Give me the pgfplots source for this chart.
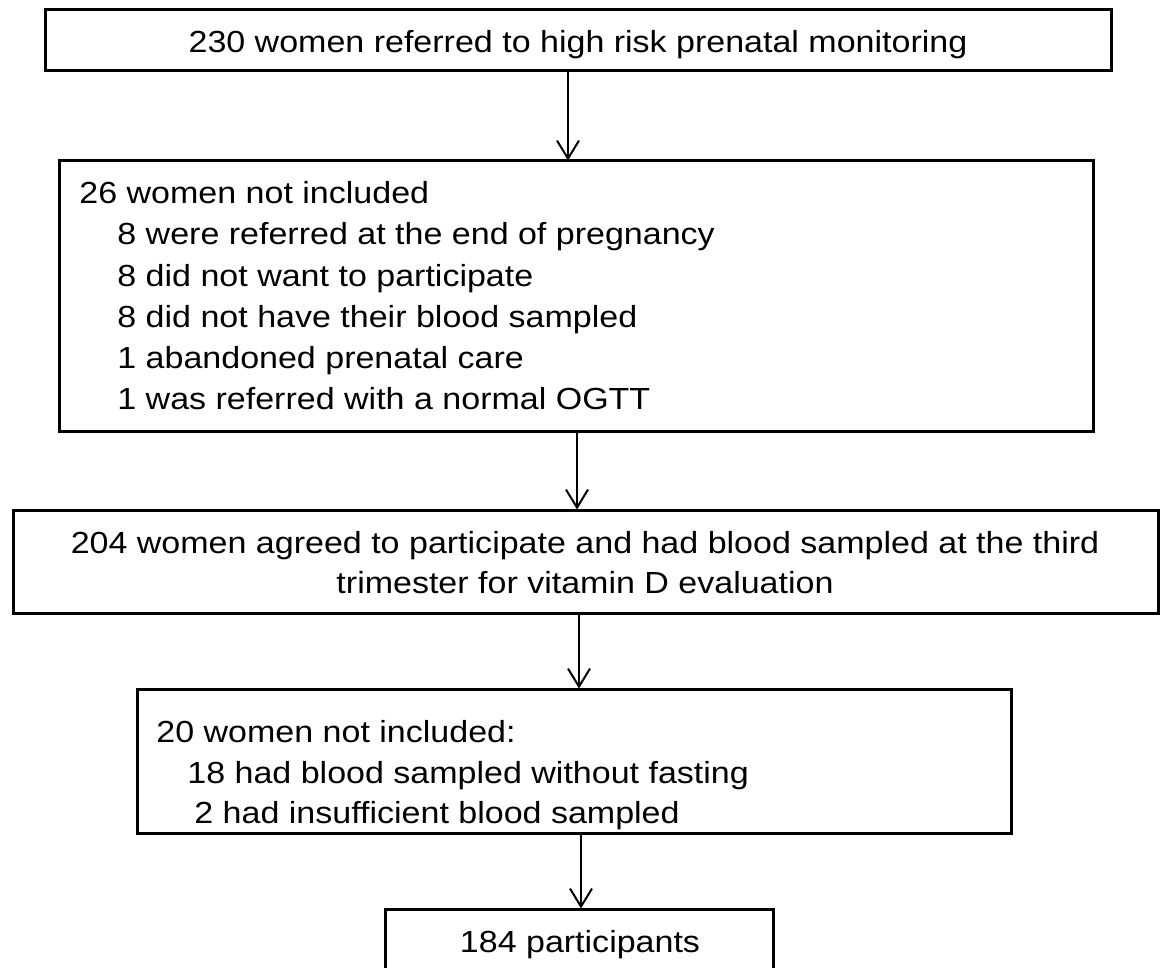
\documentclass[border=0pt]{standalone}
\usepackage{pgfplots}
\pgfplotsset{compat=1.18}
\usepackage{fontspec}
\setmainfont{Liberation Sans}[FakeStretch=1.115]
\usetikzlibrary{arrows.meta}
\begin{document}
\begin{tikzpicture}
\begin{axis}[hide axis, scale only axis, width=581bp, height=484bp,
  xmin=0, xmax=1162, ymin=0, ymax=968, y dir=reverse, clip=false]
\tikzset{box/.style={line width=1.5bp, black},
  arr/.style={line width=1bp, black, -{Straight Barb[length=9bp,width=11bp,line width=1bp]}},
  txt/.style={inner sep=0pt, font=\fontsize{15.25bp}{20bp}\selectfont}}
% boxes
\draw[box] (axis cs:45,10) rectangle (axis cs:1111,71);
\draw[box] (axis cs:59,161) rectangle (axis cs:1093,431);
\draw[box] (axis cs:13,510) rectangle (axis cs:1158,613);
\draw[box] (axis cs:137,689) rectangle (axis cs:1011,833);
\draw[box] (axis cs:385,968) -- (axis cs:385,909) -- (axis cs:773,909) -- (axis cs:773,968);
% arrows
\draw[arr] (axis cs:568,71) -- (axis cs:568,160.5);
\draw[arr] (axis cs:577,431) -- (axis cs:577,509.5);
\draw[arr] (axis cs:579,613) -- (axis cs:579,688.5);
\draw[arr] (axis cs:581,833) -- (axis cs:581,908.5);
% texts
\node[txt, anchor=base] at (axis cs:578,53) {230 women referred to high risk prenatal monitoring};
\node[txt, anchor=base west] at (axis cs:79,203) {26 women not included};
\node[txt, anchor=base west] at (axis cs:117,244) {8 were referred at the end of pregnancy};
\node[txt, anchor=base west] at (axis cs:117,286) {8 did not want to participate};
\node[txt, anchor=base west] at (axis cs:117,327) {8 did not have their blood sampled};
\node[txt, anchor=base west] at (axis cs:117,368) {1 abandoned prenatal care};
\node[txt, anchor=base west] at (axis cs:117,409) {1 was referred with a normal OGTT};
\node[txt, anchor=base] at (axis cs:585,553) {204 women agreed to participate and had blood sampled at the third};
\node[txt, anchor=base] at (axis cs:585,593) {trimester for vitamin D evaluation};
\node[txt, anchor=base west] at (axis cs:156,742) {20 women not included:};
\node[txt, anchor=base west] at (axis cs:187,783) {18 had blood sampled without fasting};
\node[txt, anchor=base west] at (axis cs:194,823) {2 had insufficient blood sampled};
\node[txt, anchor=base] at (axis cs:580,952) {184 participants};
\end{axis}
\pgfresetboundingbox
\path (0,0) rectangle (581bp,484bp);
\end{tikzpicture}
\end{document}
